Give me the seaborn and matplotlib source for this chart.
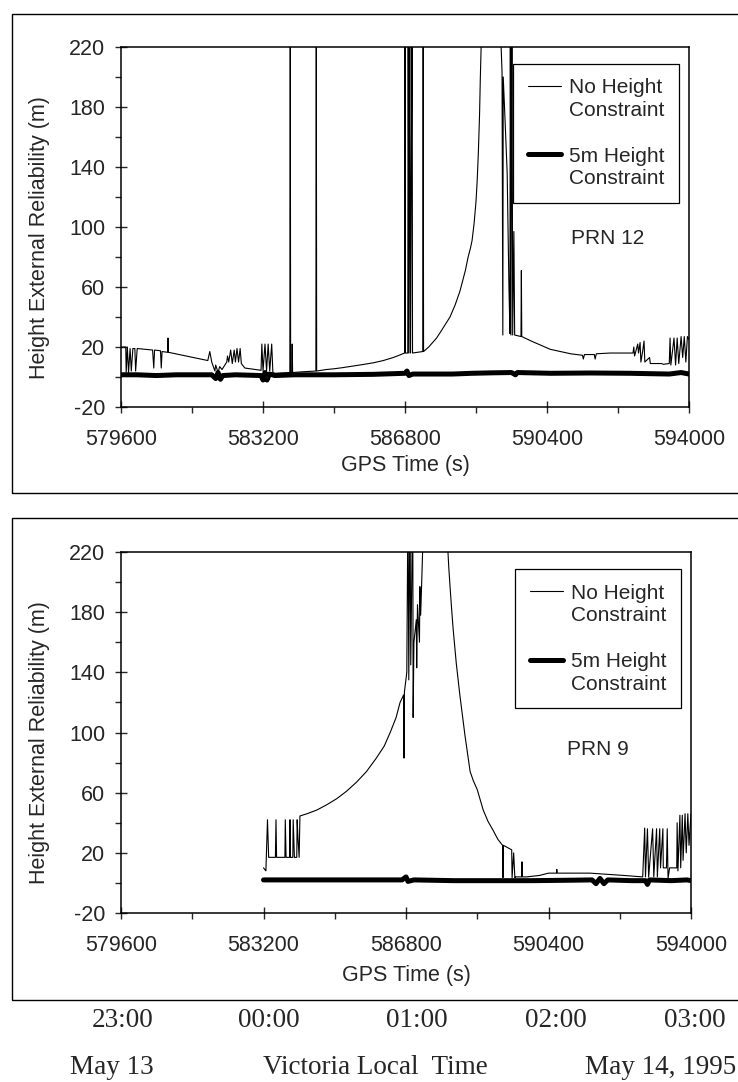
import matplotlib
matplotlib.use("Agg")
import matplotlib.pyplot as plt
from matplotlib.lines import Line2D
from matplotlib.patches import Rectangle
import seaborn as sns

# ===== PRN 12: no height constraint (GPS time s, height reliability m) =====
prn12_free_t = [
    579600, 579720, 579730, 579760, 579790, 579830, 579860, 579900, 579950, 579970,
    580010, 580400, 580430, 580450, 580600, 580620, 580640, 580780, 580790, 580800,
    581800, 581850, 581900, 581980, 582000, 582060, 582100, 582160, 582280, 582300,
    582330, 582380, 582420, 582470, 582500, 582540, 582580, 582620, 582650, 582740,
    583150, 583170, 583200, 583250, 583290, 583330, 583370, 583420, 583450, 583500,
    583880, 583890, 583900, 583930, 583940, 583950, 584200, 584540, 584550, 584560,
    584800, 585000, 585200, 585400, 585700, 586000, 586250, 586500, 586650, 586790,
    586800, 586810, 586870, 586880, 586900, 586920, 586940, 586980, 586990, 587250,
    587260, 587270, 587400, 587500, 587600, 587700, 587820, 587940, 588070, 588190,
    588270, 588330, 588400, 588460, 588500, 588550, 588600, 588630, 588660, 588690,
    588710, 588740, 588850, 589000, 589150, 589210, 589260, 589280, 589290, 589340,
    589390, 589410, 589435, 589460, 589470, 589485, 589510, 589530, 589560, 589580,
    589740, 589750, 589760, 590000, 590480, 591000, 591300, 591320, 591350, 591600,
    591620, 591650, 592000, 592300, 592580, 592600, 592620, 592700, 592720, 592760,
    592780, 592830, 592860, 592880, 593000, 593020, 593300, 593350, 593500, 593520,
    593540, 593620, 593660, 593700, 593740, 593800, 593840, 593880, 593920, 593960,
    594000,
]
prn12_free_h = [
    20, 20, 3, 20, 3, 19, 4, 19, 19, 4,
    19, 18, 6, 18, 17.5, 6, 17, 16.5, 26, 16.5,
    11, 17, 10, 4, 8, 3, 7, 5, 10, 14,
    10, 18, 9, 18, 10, 19, 10, 19, 9, 6,
    4.5, 22, 4, 22, 4, 22, 4, 22, 3, 2.5,
    3, 260, 3, 3, 22, 3, 3.5, 4, 260, 4,
    5, 5.5, 6.2, 7, 8.2, 9.5, 11, 13, 14.5, 16,
    260, 16, 16, 260, 16, 260, 16, 260, 16, 17,
    260, 17, 20, 23, 26, 30, 35, 40, 48, 57,
    65, 71, 80, 86, 91, 102, 117, 131, 150, 175,
    200, 230, 400, 500, 400, 240, 203, 28, 200, 169,
    136, 100, 60, 29, 260, 28, 260, 28, 97, 28,
    27, 71, 27, 24, 18.5, 15.5, 14.5, 12, 15, 15,
    12, 15.5, 16, 16, 16, 20, 14, 22, 16, 23,
    10, 18, 24, 10, 13, 9, 9, 8.5, 9, 26,
    8, 26, 8, 26, 9, 27, 13, 27, 10, 27,
    25,
]

# ===== PRN 12: 5 m height constraint =====
prn12_con_t = [
    579600, 580000, 580500, 581000, 581900, 582000, 582060, 582120, 582180, 582500,
    583150, 583200, 583250, 583300, 583360, 583500, 584000, 585000, 586000, 586800,
    586850, 586900, 587000, 588000, 588500, 589000, 589500, 589600, 589650, 590500,
    591500, 592500, 593500, 593800, 594000,
]
prn12_con_h = [
    1.5, 1.5, 1.0, 1.5, 1.5, -1, 3, -1.5, 1, 1.5,
    1, -2, 3, -2, 2, 1, 1.5, 1.5, 1.8, 2.5,
    4, 1, 2, 2, 2.5, 2.8, 3, 1.5, 3, 2.5,
    2.7, 2.5, 2, 3, 2,
]

# ===== PRN 9: no height constraint =====
prn9_free_t = [
    583200, 583260, 583300, 583330, 583500, 583515, 583530, 583740, 583750, 583770,
    583860, 583870, 583880, 583940, 583950, 583980, 584040, 584050, 584070, 584100,
    584120, 584300, 584550, 584800, 585050, 585300, 585550, 585800, 586050, 586250,
    586400, 586550, 586650, 586740, 586750, 586760, 586820, 586850, 586870, 586900,
    586920, 586970, 586980, 587000, 587060, 587070, 587090, 587140, 587150, 587170,
    587200, 587230, 587500, 587860, 587880, 587910, 587950, 587990, 588070, 588160,
    588290, 588420, 588500, 588600, 588750, 588870, 589000, 589120, 589240, 589250,
    589260, 589470, 589480, 589520, 589550, 589570, 589720, 589730, 589740, 589850,
    590180, 590400, 590600, 590610, 590620, 591450, 592280, 592780, 592830, 592850,
    592900, 592930, 593030, 593060, 593130, 593150, 593210, 593230, 593290, 593300,
    593380, 593400, 593420, 593460, 593640, 593650, 593670, 593720, 593740, 593780,
    593800, 593850, 593880, 593920, 593950, 594000,
]
prn9_free_h = [
    10, 8, 42, 17, 17, 42, 17, 17, 42, 17,
    17, 42, 17, 17, 42, 17, 17, 42, 30, 17,
    44.5, 46, 48.5, 52, 56, 61, 67, 74, 83, 91,
    100, 110, 120, 125, 83, 127, 140, 260, 135, 260,
    145, 260, 110, 160, 175, 143, 185, 160, 197, 178,
    203, 230, 400, 220, 210, 198, 183, 169, 146, 125,
    98, 74, 68, 62, 48.5, 41, 35, 29, 25, 3.5,
    25, 22, 3.5, 20, 3.5, 4, 4, 14, 4, 4,
    5, 6.5, 6.5, 9, 6.5, 6.5, 5, 4, 36.5, 4,
    36, 4, 36, 4, 36, 4, 36, 10, 36, 10,
    10, 36, 3, 10, 10, 40, 8, 45, 10, 45,
    15, 46, 20, 46, 25, 46,
]

# ===== PRN 9: 5 m height constraint =====
prn9_con_t = [
    583200, 584000, 585000, 586000, 586700, 586800, 586850, 587000, 588000, 589000,
    590000, 591000, 591500, 591600, 591700, 591800, 591900, 592500, 592850, 592900,
    592950, 593500, 593900, 594000,
]
prn9_con_h = [
    2, 2, 2, 2, 2, 4, 1, 2, 1.5, 1.5,
    1.5, 1.8, 2, -0.5, 3, -0.5, 2, 1.5, 1.5, -1,
    2, 1.5, 2, 1.5,
]

x_ticks = [579600, 583200, 586800, 590400, 594000]
y_ticks = [-20, 20, 60, 100, 140, 180, 220]
local_hours = ["23:00", "00:00", "01:00", "02:00", "03:00"]

sns.set_style("ticks")
plt.rcParams["font.family"] = ["Liberation Sans", "DejaVu Sans"]

fig = plt.figure(figsize=(7.38, 10.82), dpi=100)

# 外框
for y0, h in [(0.5444, 0.4427), (0.0758, 0.4455)]:
    fig.add_artist(Rectangle((0.0163, y0), 1.1, h, transform=fig.transFigure,
                             fill=False, ec="black", lw=1.0))

ax_top = fig.add_axes([0.164, 0.6238, 0.7696, 0.3328])
ax_bot = fig.add_axes([0.164, 0.1562, 0.7723, 0.3336])

panels = [
    (ax_top, prn12_free_t, prn12_free_h, prn12_con_t, prn12_con_h, "PRN 12", (0.792, 0.469), -0.133),
    (ax_bot, prn9_free_t, prn9_free_h, prn9_con_t, prn9_con_h, "PRN 9", (0.782, 0.454), -0.144),
]

for ax, ft, fh, ct, ch, prn, prn_pos, xl_y in panels:
    sns.lineplot(x=ft, y=fh, ax=ax, color="black", linewidth=0.8,
                 sort=False, estimator=None, legend=False)
    sns.lineplot(x=ct, y=ch, ax=ax, color="black", linewidth=3.6,
                 sort=False, estimator=None, legend=False)
    ax.set_xlim(579600, 594000)
    ax.set_ylim(-20, 220)
    ax.set_xticks(x_ticks)
    ax.set_xticks([581400, 585000, 588600, 592200], minor=True)
    ax.set_yticks(y_ticks)
    ax.set_yticks([0, 40, 80, 120, 160, 200], minor=True)
    ax.set_xticklabels([str(v) for v in x_ticks], fontsize=15.5)
    ax.set_yticklabels([str(v) for v in y_ticks], fontsize=15.5)
    ax.tick_params(axis="x", which="major", direction="inout", length=9, width=1, pad=11)
    ax.tick_params(axis="y", which="major", direction="inout", length=9, width=1, pad=7)
    ax.tick_params(which="minor", direction="out", length=4, width=1)
    for s in ax.spines.values():
        s.set_visible(True)
        s.set_linewidth(1.1)
        s.set_color("black")
    ax.set_xlabel("GPS Time (s)", fontsize=15.5)
    ax.set_ylabel("Height External Reliability (m)", fontsize=15.5)
    ax.xaxis.set_label_coords(0.5, xl_y)
    ax.yaxis.set_label_coords(-0.125, 0.472)

    handles = [
        Line2D([], [], color="black", lw=0.8),
        Line2D([], [], color="none"),
        Line2D([], [], color="none"),
        Line2D([], [], color="black", lw=3.6),
        Line2D([], [], color="none"),
    ]
    labels = ["No Height", "Constraint", " ", "5m Height", "Constraint"]
    leg = ax.legend(handles, labels, loc="upper right", bbox_to_anchor=(0.982, 0.953),
                    borderaxespad=0, fontsize=15, frameon=True, fancybox=False,
                    edgecolor="black", framealpha=1, borderpad=0.7,
                    labelspacing=0.18, handlelength=1.6, handletextpad=0.35)
    leg.get_frame().set_linewidth(0.9)
    ax.text(prn_pos[0], prn_pos[1], prn, transform=ax.transAxes, fontsize=15,
            ha="left", va="center")

# 当地时间
serif = ["Liberation Serif", "DejaVu Serif"]
for xpx, lab in zip([123, 269, 417, 556, 695], local_hours):
    fig.text(xpx / 738, 0.0573, lab, ha="center", va="center", fontsize=19.5, family=serif)
fig.text(112 / 738, 0.0135, "May 13", ha="center", va="center", fontsize=19.5, family=serif)
fig.text(375 / 738, 0.0135, "Victoria Local  Time", ha="center", va="center", fontsize=19.5, family=serif)
fig.text(736 / 738, 0.0135, "May 14, 1995", ha="right", va="center", fontsize=19.5, family=serif)

fig.savefig("out.png", dpi=100)
